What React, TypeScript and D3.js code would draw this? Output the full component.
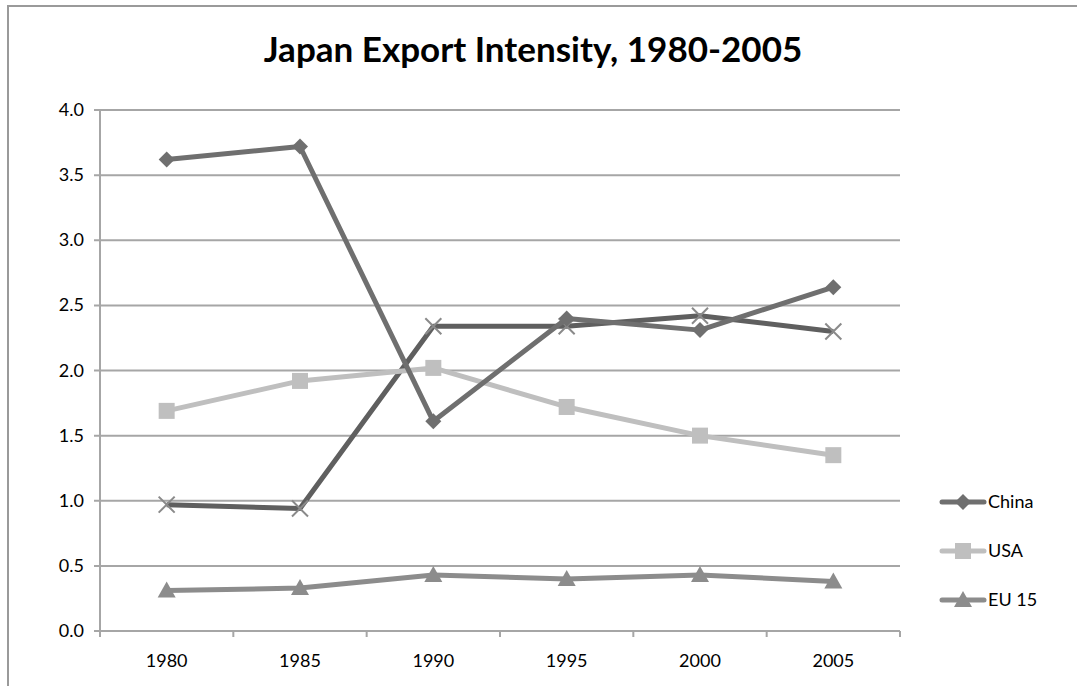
import React from "react";
import * as d3 from "d3";

const years = ["1980", "1985", "1990", "1995", "2000", "2005"];
const china = [3.62, 3.72, 1.61, 2.4, 2.31, 2.64];
const usa = [1.69, 1.92, 2.02, 1.72, 1.5, 1.35];
const eu15 = [0.31, 0.33, 0.43, 0.4, 0.43, 0.38];
const other = [0.97, 0.94, 2.34, 2.34, 2.42, 2.3];
const yTicks = [0, 0.5, 1, 1.5, 2, 2.5, 3, 3.5, 4];

const W = 1077;
const H = 686;
const left = 100;
const right = 900;
const top = 110;
const bottom = 631;
const font = "Lato, 'Open Sans', sans-serif";

type Series = { name: string; values: number[]; color: string; marker: string; legend: boolean };

const series: Series[] = [
  { name: "China", values: china, color: "#6f6f6f", marker: "diamond", legend: true },
  { name: "USA", values: usa, color: "#bfbfbf", marker: "square", legend: true },
  { name: "EU 15", values: eu15, color: "#8c8c8c", marker: "triangle", legend: true },
  { name: "", values: other, color: "#5f5f5f", marker: "x", legend: false },
];

function Marker({ kind, x, y, color }: { kind: string; x: number; y: number; color: string }) {
  if (kind === "diamond") {
    const r = 8;
    return <path d={`M${x},${y - r}L${x + r},${y}L${x},${y + r}L${x - r},${y}Z`} fill={color} />;
  }
  if (kind === "square") {
    const r = 8;
    return <rect x={x - r} y={y - r} width={2 * r} height={2 * r} fill={color} />;
  }
  if (kind === "triangle") {
    return <path d={`M${x},${y - 9}L${x + 9},${y + 7}L${x - 9},${y + 7}Z`} fill={color} />;
  }
  const r = 8;
  return (
    <path
      d={`M${x - r},${y - r}L${x + r},${y + r}M${x - r},${y + r}L${x + r},${y - r}`}
      stroke="#8a8a8a"
      strokeWidth={2}
      fill="none"
    />
  );
}

export default function App() {
  const x = d3.scaleBand<string>().domain(years).range([left, right]);
  const y = d3.scaleLinear().domain([0, 4]).range([bottom, top]);
  const cx = (yr: string) => (x(yr) as number) + x.bandwidth() / 2;
  const line = d3
    .line<number>()
    .x((_, i) => cx(years[i]))
    .y((v) => y(v));

  const legendItems = series.filter((s) => s.legend);

  return (
    <svg width={W} height={H} style={{ position: "absolute", left: 0, top: 0 }}>
      <rect x={0} y={0} width={W} height={H} fill="#fff" />
      <rect x={8} y={6} width={W + 20} height={H + 20} fill="none" stroke="#9a9a9a" strokeWidth={2} />
      <text x={533} y={62} textAnchor="middle" fontFamily={font} fontWeight="bold" fontSize={35} fill="#000">
        Japan Export Intensity, 1980-2005
      </text>
      {yTicks.map((t) => (
        <g key={t}>
          <line x1={left - 6} x2={right} y1={y(t)} y2={y(t)} stroke="#a6a6a6" strokeWidth={2} />
          <text x={left - 16} y={y(t) + 6} textAnchor="end" fontFamily={font} fontSize={18} fill="#000">
            {t.toFixed(1)}
          </text>
        </g>
      ))}
      <line x1={left} x2={left} y1={top} y2={bottom + 6} stroke="#a6a6a6" strokeWidth={2} />
      {years.map((yr, i) => (
        <line
          key={"t" + i}
          x1={x(yr) as number}
          x2={x(yr) as number}
          y1={bottom}
          y2={bottom + 6}
          stroke="#a6a6a6"
          strokeWidth={2}
        />
      ))}
      <line x1={right} x2={right} y1={bottom} y2={bottom + 6} stroke="#a6a6a6" strokeWidth={2} />
      {years.map((yr) => (
        <text key={yr} x={cx(yr)} y={bottom + 36} textAnchor="middle" fontFamily={font} fontSize={18} fill="#000">
          {yr}
        </text>
      ))}
      {[...series].reverse().map((s) => (
        <g key={s.name || "other"}>
          <path d={line(s.values) || ""} fill="none" stroke={s.color} strokeWidth={5} strokeLinejoin="round" />
          {s.values.map((v, i) => (
            <Marker key={i} kind={s.marker} x={cx(years[i])} y={y(v)} color={s.color} />
          ))}
        </g>
      ))}
      {legendItems.map((s, i) => {
        const ly = 502 + i * 49;
        return (
          <g key={s.name}>
            <line x1={942} x2={984} y1={ly} y2={ly} stroke={s.color} strokeWidth={5} strokeLinecap="round" />
            <Marker kind={s.marker} x={963} y={ly} color={s.color} />
            <text x={988} y={ly + 6} fontFamily={font} fontSize={18} fill="#000">
              {s.name}
            </text>
          </g>
        );
      })}
    </svg>
  );
}
